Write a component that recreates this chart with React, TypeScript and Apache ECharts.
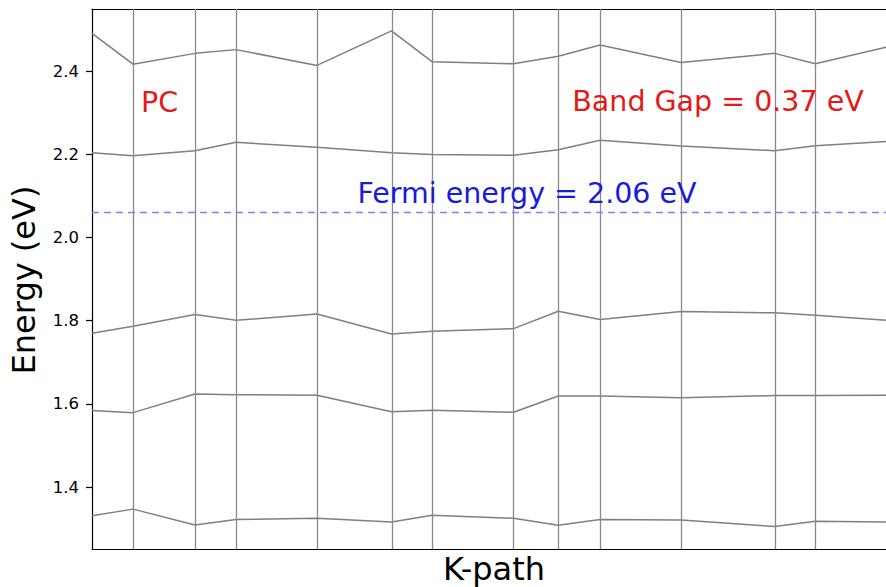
import React, { useEffect, useRef } from "react";
import * as echarts from "echarts";

// k-path distances of the sampled points (last one is the right edge of the view)
const kPath = [0, 0.41, 1.03, 1.44, 2.25, 2.995, 3.4, 4.215, 4.663, 5.08, 5.89, 6.827, 7.233, 7.94];
// high-symmetry / segment boundaries drawn as vertical lines
const kLines = [0.41, 1.03, 1.44, 2.25, 2.995, 3.4, 4.215, 4.663, 5.08, 5.89, 6.827, 7.233];

const band1 = [2.491, 2.417, 2.443, 2.452, 2.414, 2.497, 2.423, 2.418, 2.436, 2.463, 2.421, 2.443, 2.418, 2.458];
const band2 = [2.204, 2.197, 2.209, 2.229, 2.217, 2.204, 2.2, 2.198, 2.211, 2.234, 2.22, 2.209, 2.221, 2.231];
const band3 = [1.77, 1.787, 1.815, 1.801, 1.816, 1.768, 1.775, 1.781, 1.823, 1.803, 1.822, 1.819, 1.813, 1.801];
const band4 = [1.584, 1.579, 1.624, 1.622, 1.621, 1.581, 1.585, 1.58, 1.619, 1.619, 1.615, 1.62, 1.62, 1.621];
const band5 = [1.331, 1.347, 1.309, 1.322, 1.325, 1.316, 1.332, 1.325, 1.308, 1.322, 1.321, 1.305, 1.318, 1.316];
const bands = [band1, band2, band3, band4, band5];

const fermiEnergy = 2.056;
const bandGap = 0.37;
const yTicks = [1.4, 1.6, 1.8, 2.0, 2.2, 2.4];
const yMin = 1.2511;
const yMax = 2.5497;
const kMax = 7.94;

const FONT = "DejaVu Sans";

export default function App() {
  const ref = useRef<HTMLDivElement>(null);
  useEffect(() => {
    if (!ref.current) return;
    const chart = echarts.init(ref.current, null, { renderer: "svg" });
    const series: any[] = bands.map((b) => ({
      type: "line",
      data: b.map((v, j) => [kPath[j], v]),
      showSymbol: false,
      symbol: "none",
      silent: true,
      z: 3,
      lineStyle: { color: "#7f7f7f", width: 1.5 },
      clip: true,
    }));
    series.push({
      type: "line",
      data: [],
      silent: true,
      markLine: {
        silent: true,
        symbol: ["none", "none"],
        label: { show: false },
        lineStyle: { type: "solid", color: "#8a8a8a", width: 1.3 },
        data: kLines.map((k) => ({ xAxis: k })),
      },
    });
    series.push({
      type: "line",
      data: [],
      silent: true,
      markLine: {
        silent: true,
        symbol: ["none", "none"],
        label: { show: false },
        lineStyle: { type: [7, 5], color: "#8080f0", width: 1.3 },
        data: [{ yAxis: fermiEnergy }],
      },
    });

    chart.setOption({
      animation: false,
      backgroundColor: "#ffffff",
      grid: { left: 92, right: 0, top: 9, bottom: 38 },
      xAxis: [
        {
          type: "value",
          min: 0,
          max: kMax,
          axisLine: { show: true, lineStyle: { color: "#000", width: 1.2 } },
          axisTick: { show: false },
          axisLabel: { show: false },
          splitLine: { show: false },
        },
        {
          type: "value",
          position: "top",
          min: 0,
          max: kMax,
          axisLine: { show: true, onZero: false, lineStyle: { color: "#000", width: 1.2 } },
          axisTick: { show: false },
          axisLabel: { show: false },
          splitLine: { show: false },
        },
      ],
      yAxis: {
        type: "value",
        min: yMin,
        max: yMax,
        axisLine: { show: true, lineStyle: { color: "#000", width: 1.2 } },
        axisTick: {
          show: true,
          length: 6,
          customValues: yTicks,
          lineStyle: { color: "#000", width: 1.2 },
        },
        axisLabel: {
          show: true,
          customValues: yTicks,
          margin: 13,
          color: "#000",
          fontFamily: FONT,
          fontSize: 16.5,
          formatter: (v: number) => v.toFixed(1),
        },
        splitLine: { show: false },
      },
      series,
      graphic: [
        {
          type: "text",
          x: 159.5,
          y: 102.5,
          style: {
            text: "PC",
            fill: "#e61919",
            font: `28.5px ${FONT}`,
            align: "center",
            verticalAlign: "middle",
          },
          z: 10,
        },
        {
          type: "text",
          x: 718,
          y: 101.7,
          style: {
            text: `Band Gap = ${bandGap.toFixed(2)} eV`,
            fill: "#e61919",
            font: `28.5px ${FONT}`,
            align: "center",
            verticalAlign: "middle",
          },
          z: 10,
        },
        {
          type: "text",
          x: 527,
          y: 193.7,
          style: {
            text: `Fermi energy = ${fermiEnergy.toFixed(2)} eV`,
            fill: "#1a1ad9",
            font: `28.5px ${FONT}`,
            align: "center",
            verticalAlign: "middle",
          },
          z: 10,
        },
        {
          type: "text",
          x: 24,
          y: 280,
          rotation: Math.PI / 2,
          style: {
            text: "Energy (eV)",
            fill: "#000",
            font: `32px ${FONT}`,
            align: "center",
            verticalAlign: "middle",
          },
        },
        {
          type: "text",
          x: 494,
          y: 569,
          style: {
            text: "K-path",
            fill: "#000",
            font: `32px ${FONT}`,
            align: "center",
            verticalAlign: "middle",
          },
        },
      ],
    });
    return () => chart.dispose();
  }, []);
  return (
    <div
      ref={ref}
      style={{ position: "fixed", left: 0, top: 0, width: 886, height: 587, background: "#fff" }}
    />
  );
}
